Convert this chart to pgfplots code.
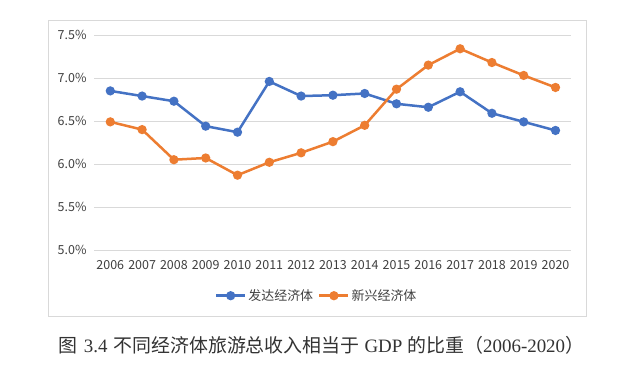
\documentclass[border=0pt]{standalone}
\usepackage{pgfplots}
\pgfplotsset{compat=1.18}
\usepackage{fontspec}
\setmainfont{Liberation Serif}
\newfontfamily\cjk{Noto Sans CJK SC}
\newfontfamily\tickfont{Noto Sans CJK SC}
\definecolor{dev}{HTML}{4472C4}
\definecolor{emg}{HTML}{ED7D31}
\definecolor{gridc}{HTML}{D9D9D9}
\definecolor{txt}{HTML}{404040}
\begin{document}
\begin{tikzpicture}[x=1bp,y=1bp]
\path[use as bounding box, fill=white] (0,0) rectangle (640,373);
\draw[gridc, line width=1bp] (48.5,57) rectangle (586.7,352.3);
\begin{axis}[
  at={(94.4bp,123bp)}, anchor=south west,
  scale only axis, width=477bp, height=215bp,
  xmin=2005.5, xmax=2020.5, ymin=5, ymax=7.5,
  xtick={2006,2007,2008,2009,2010,2011,2012,2013,2014,2015,2016,2017,2018,2019,2020},
  xticklabels={2006,2007,2008,2009,2010,2011,2012,2013,2014,2015,2016,2017,2018,2019,2020},
  ytick={5,5.5,6,6.5,7,7.5},
  yticklabels={5.0\%,5.5\%,6.0\%,6.5\%,7.0\%,7.5\%},
  ticklabel style={font=\tickfont\fontsize{12.5}{12.5}\selectfont, text=txt, inner sep=0pt},
  yticklabel style={xshift=-7.7bp},
  xticklabel style={yshift=-10.4bp},
  axis line style={draw=none},
  major tick style={draw=none},
  ymajorgrids, grid style={gridc, line width=0.8bp},
  clip=false,
  legend columns=2,
  legend style={at={(0.466,-0.2126)}, anchor=center, draw=none, fill=none,
    font=\cjk\fontsize{13}{14}\selectfont, text=txt, inner sep=0pt,
    /tikz/every odd column/.append style={column sep=0bp},
    /tikz/every even column/.append style={column sep=3bp},
    nodes={inner xsep=2bp}},
  legend image code/.code={\draw[mark repeat=2,mark phase=2] plot coordinates {(0bp,0bp)(14.5bp,0bp)(29bp,0bp)};},
]
\addplot[dev, line width=2.5bp, mark=*, mark size=3.3bp, mark options={fill=dev, draw=dev}] coordinates {
(2006,6.85)(2007,6.79)(2008,6.73)(2009,6.44)(2010,6.37)(2011,6.96)(2012,6.79)(2013,6.80)
(2014,6.82)(2015,6.70)(2016,6.66)(2017,6.84)(2018,6.59)(2019,6.49)(2020,6.39)};
\addlegendentry{发达经济体}
\addplot[emg, line width=2.5bp, mark=*, mark size=3.3bp, mark options={fill=emg, draw=emg}] coordinates {
(2006,6.49)(2007,6.40)(2008,6.05)(2009,6.07)(2010,5.87)(2011,6.02)(2012,6.13)(2013,6.26)
(2014,6.45)(2015,6.87)(2016,7.15)(2017,7.34)(2018,7.18)(2019,7.03)(2020,6.89)};
\addlegendentry{新兴经济体}
\end{axis}
\node[font=\fontsize{19}{21}\selectfont, text=black!80] at (321.5,28)
  {{\cjk 图}\hspace{6bp}3.4\hspace{6bp}{\cjk 不同经济体旅游总收入相当于}\hspace{5bp}GDP\hspace{5bp}{\cjk 的比重（}2006-2020{\cjk ）}};
\end{tikzpicture}
\end{document}
